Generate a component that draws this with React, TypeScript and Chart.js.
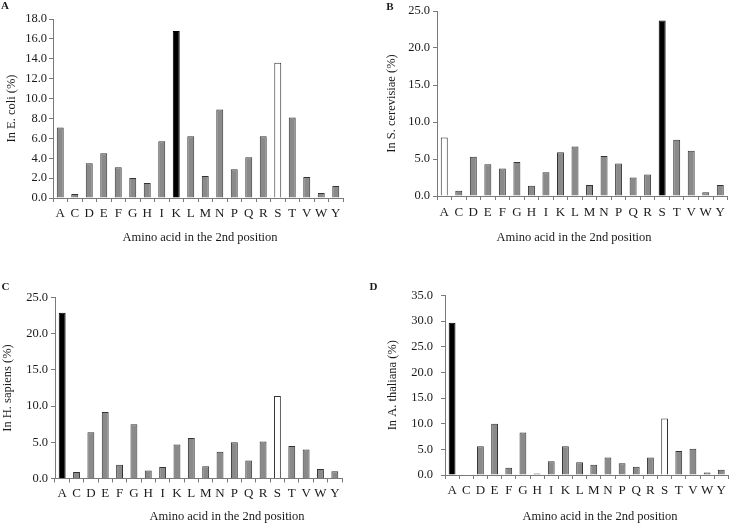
import React, { useEffect, useRef } from "react";
import { Chart, registerables } from "chart.js";

Chart.register(...registerables);

// ---- Data ----
const categories = ["A", "C", "D", "E", "F", "G", "H", "I", "K", "L", "M", "N", "P", "Q", "R", "S", "T", "V", "W", "Y"];

const ecoli = [7.1, 0.4, 3.5, 4.5, 3.1, 2.0, 1.5, 5.7, 16.8, 6.2, 2.2, 8.9, 2.9, 4.1, 6.2, 13.6, 8.1, 2.1, 0.5, 1.2];
const scerevisiae = [7.9, 0.7, 5.3, 4.3, 3.7, 4.6, 1.4, 3.2, 5.9, 6.7, 1.5, 5.4, 4.4, 2.5, 2.9, 23.7, 7.6, 6.1, 0.5, 1.5];
const hsapiens = [22.9, 0.9, 6.4, 9.2, 1.9, 7.5, 1.1, 1.6, 4.7, 5.6, 1.7, 3.7, 5.0, 2.5, 5.1, 11.4, 4.5, 4.0, 1.3, 1.0];
const athaliana = [29.7, 0.1, 5.6, 10.0, 1.4, 8.3, 0.3, 2.7, 5.6, 2.5, 2.0, 3.4, 2.3, 1.6, 3.4, 11.0, 4.7, 5.1, 0.5, 1.0];

const yMaxes = [18, 25, 25, 35];
const ySteps = [2, 5, 5, 5];
const yTitles = ["In E. coli (%)", "In S. cerevisiae (%)", "In H. sapiens (%)", "In A. thaliana (%)"];
const xTitle = "Amino acid in the 2nd position";
const panelLetters = ["A", "B", "C", "D"];
const blackCats = ["K", "S", "A", "A"];
const whiteCats = ["S", "A", "S", "S"];

// ---- Styles ----
const FONT = "'Liberation Serif', 'Times New Roman', serif";
const TEXT = "#1a1a1a";
const AXIS = "#7a7a7a";
const GRAY_FILL = "#8a8a8a";
const BAR_BORDER = "#333333";

type Spec = {
  values: number[];
  idx: number;
  x: number; y: number; w: number; h: number;
  plotL: number; plotR: number; plotT: number; plotB: number;
  yTitleX: number; xTitleX: number; xTitleY: number;
  letterX: number; letterY: number;
  yTickPad: number; xTickPad: number;
};

const specs: Spec[] = [
  { values: ecoli, idx: 0, x: 0, y: 0, w: 365, h: 260, plotL: 53, plotR: 343, plotT: 19, plotB: 198,
    yTitleX: 12, xTitleX: 200, xTitleY: 238, letterX: 5, letterY: 6, yTickPad: 2, xTickPad: 4 },
  { values: scerevisiae, idx: 1, x: 365, y: 0, w: 365, h: 260, plotL: 437, plotR: 729, plotT: 11, plotB: 196,
    yTitleX: 392, xTitleX: 574, xTitleY: 238, letterX: 390, letterY: 7, yTickPad: 3, xTickPad: 5 },
  { values: hsapiens, idx: 2, x: 0, y: 260, w: 365, h: 263, plotL: 55, plotR: 342, plotT: 297.5, plotB: 478.5,
    yTitleX: 8, xTitleX: 227, xTitleY: 517, letterX: 5.5, letterY: 287, yTickPad: 3, xTickPad: 3 },
  { values: athaliana, idx: 3, x: 365, y: 260, w: 365, h: 263, plotL: 445, plotR: 729, plotT: 295.5, plotB: 475,
    yTitleX: 393, xTitleX: 600, xTitleY: 517, letterX: 373.5, letterY: 287, yTickPad: 8, xTickPad: 4 },
];

const textPlugin = {
  id: "panelText",
  afterDraw(chart: any, _args: any, opts: any) {
    const ctx = chart.ctx;
    ctx.save();
    ctx.fillStyle = TEXT;
    ctx.textAlign = "center";
    ctx.textBaseline = "middle";
    ctx.font = `12.5px ${FONT}`;
    ctx.fillText(opts.xTitle, opts.xTitleX, opts.xTitleY);
    ctx.font = `bold 11px ${FONT}`;
    ctx.fillText(opts.letter, opts.letterX, opts.letterY);
    ctx.restore();
  },
};

function Panel({ s }: { s: Spec }) {
  const ref = useRef<HTMLCanvasElement>(null);
  useEffect(() => {
    const i = s.idx;
    const bg = categories.map((c) => (c === blackCats[i] ? "#000000" : c === whiteCats[i] ? "#ffffff" : GRAY_FILL));
    const bd = categories.map((c) => (c === blackCats[i] ? "#000000" : BAR_BORDER));
    const chart = new Chart(ref.current as HTMLCanvasElement, {
      type: "bar",
      data: {
        labels: categories,
        datasets: [
          {
            data: s.values,
            backgroundColor: bg,
            borderColor: bd,
            borderWidth: 1,
            categoryPercentage: 1,
            barPercentage: 0.48,
          },
        ],
      },
      options: {
        animation: false,
        responsive: false,
        maintainAspectRatio: false,
        layout: {
          padding: { left: 0, top: s.plotT - s.y, right: s.x + s.w - s.plotR, bottom: 0 },
        },
        plugins: {
          legend: { display: false },
          tooltip: { enabled: false },
          panelText: {
            xTitle,
            xTitleX: s.xTitleX - s.x,
            xTitleY: s.xTitleY - s.y,
            letter: panelLetters[i],
            letterX: s.letterX - s.x,
            letterY: s.letterY - s.y,
          },
        } as any,
        scales: {
          x: {
            grid: { display: true, drawOnChartArea: false, drawTicks: true, tickLength: 4, color: AXIS, offset: true },
            border: { display: true, color: AXIS, width: 1 },
            ticks: { font: { family: FONT, size: 13 }, color: TEXT, padding: s.xTickPad, autoSkip: false, maxRotation: 0 },
            afterFit: (sc: any) => {
              sc.height = s.y + s.h - s.plotB;
            },
          },
          y: {
            min: 0,
            max: yMaxes[i],
            grid: { display: true, drawOnChartArea: false, drawTicks: true, tickLength: 4, color: AXIS },
            border: { display: true, color: AXIS, width: 1 },
            ticks: {
              stepSize: ySteps[i],
              font: { family: FONT, size: 12.5 },
              color: TEXT,
              padding: s.yTickPad,
              callback: (v: any) => Number(v).toFixed(1),
            },
            title: {
              display: true,
              text: yTitles[i],
              font: { family: FONT, size: 12.5 },
              color: TEXT,
              padding: { top: s.yTitleX - s.x - 7.5, bottom: 0 },
            },
            afterFit: (sc: any) => {
              sc.width = s.plotL - s.x;
            },
          },
        },
      },
      plugins: [textPlugin],
    } as any);
    return () => chart.destroy();
  }, []);
  return (
    <canvas
      ref={ref}
      width={s.w}
      height={s.h}
      style={{ position: "absolute", left: s.x, top: s.y, width: s.w, height: s.h }}
    />
  );
}

export default function App() {
  return (
    <div style={{ position: "fixed", left: 0, top: 0, width: 730, height: 523, background: "#ffffff", overflow: "hidden" }}>
      {specs.map((s) => (
        <Panel key={s.idx} s={s} />
      ))}
    </div>
  );
}
